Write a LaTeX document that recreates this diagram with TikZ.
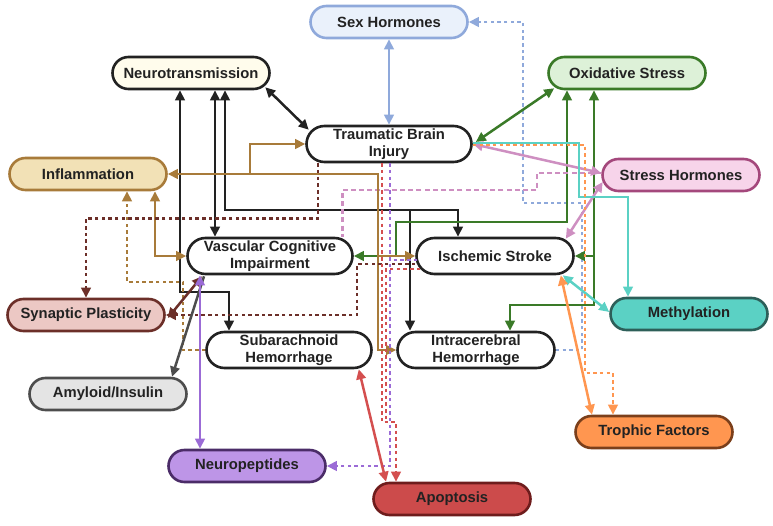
\documentclass[tikz,border=0pt]{standalone}
\usepackage{fontspec}
\setmainfont{Liberation Sans}
\usepackage{xcolor}
\definecolor{ColBlk}{RGB}{34,34,34}
\definecolor{ColSex}{RGB}{143,169,219}
\definecolor{ColSexF}{RGB}{234,241,251}
\definecolor{ColNeuF}{RGB}{255,252,236}
\definecolor{ColOx}{RGB}{58,122,40}
\definecolor{ColOxF}{RGB}{221,241,216}
\definecolor{ColInf}{RGB}{168,123,58}
\definecolor{ColInfF}{RGB}{242,225,182}
\definecolor{ColStr}{RGB}{206,143,193}
\definecolor{ColStrB}{RGB}{164,72,124}
\definecolor{ColStrF}{RGB}{247,212,234}
\definecolor{ColSyn}{RGB}{108,47,41}
\definecolor{ColSynF}{RGB}{236,200,196}
\definecolor{ColMet}{RGB}{91,209,196}
\definecolor{ColMetB}{RGB}{45,95,89}
\definecolor{ColAmy}{RGB}{77,77,77}
\definecolor{ColAmyF}{RGB}{228,228,228}
\definecolor{ColTro}{RGB}{255,150,80}
\definecolor{ColTroB}{RGB}{123,63,27}
\definecolor{ColPep}{RGB}{155,107,214}
\definecolor{ColPepF}{RGB}{189,149,231}
\definecolor{ColPepB}{RGB}{75,44,104}
\definecolor{ColApo}{RGB}{212,79,79}
\definecolor{ColApoF}{RGB}{204,75,75}
\definecolor{ColApoB}{RGB}{110,28,28}
\usepackage{tikz}
\usetikzlibrary{arrows.meta}
\newcommand\NodeFont{\fontsize{14.8}{17}\selectfont\bfseries}
\tikzstyle{Node}=[rectangle,rounded corners=16pt,draw=ColBlk,fill=white,
line width=2.6pt,minimum width=157pt,minimum height=32pt,inner sep=0pt,
align=center,text=ColBlk,font=\NodeFont]
\tikzstyle{NodeTwo}=[Node,minimum width=165pt,minimum height=36pt,
rounded corners=18pt]
\tikzstyle{Edge}=[draw=ColBlk,line width=2.5pt]
\tikzstyle{Dots}=[dash pattern=on 3.5pt off 3.2pt]
\tikzstyle{Dash}=[dash pattern=on 5pt off 3.2pt]

\begin{document}
\begin{tikzpicture}[x=1pt,y=1pt,>={Triangle[length=10pt,width=9.5pt]}]
            \useasboundingbox(0,0)rectangle(773,-526);
            \node[Node,draw=ColSex,fill=ColSexF](SexH)at(389,-22)
                {Sex Hormones};
            \node[Node,fill=ColNeuF](Neuro)at(191,-73)
                {Neurotransmission};
            \node[Node,draw=ColOx,fill=ColOxF](Oxid)at(627,-73)
                {Oxidative Stress};
            \node[NodeTwo](TBI)at(389,-144)
                {Traumatic Brain\\Injury};
            \node[Node,draw=ColInf,fill=ColInfF](Infl)at(88,-174)
                {Inflammation};
            \node[Node,draw=ColStrB,fill=ColStrF](StressH)at(681,-175)
                {Stress Hormones};
            \node[NodeTwo](VCI)at(270,-256)
                {Vascular Cognitive\\Impairment};
            \node[NodeTwo,minimum width=157pt](IS)at(495,-256)
                {Ischemic Stroke};
            \node[Node,draw=ColSyn,fill=ColSynF](SynP)at(86,-315)
                {Synaptic Plasticity};
            \node[Node,draw=ColMetB,fill=ColMet](Meth)at(689,-314)
                {Methylation};
            \node[NodeTwo](SAH)at(289,-350)
                {Subarachnoid\\Hemorrhage};
            \node[NodeTwo,minimum width=157pt](ICH)at(476,-350)
                {Intracerebral\\Hemorrhage};
            \node[Node,draw=ColAmy,fill=ColAmyF](Amyl)at(108,-394)
                {Amyloid/Insulin};
            \node[Node,draw=ColTroB,fill=ColTro](Troph)at(654,-432)
                {Trophic Factors};
            \node[Node,draw=ColPepB,fill=ColPepF](NeuroP)at(247,-466)
                {Neuropeptides};
            \node[Node,draw=ColApoB,fill=ColApoF](Apop)at(452,-499)
                {Apoptosis};
            \coordinate(nbr)at(410,-210);
            \coordinate(obr)at(594,-256);
            \coordinate(ibrA)at(250,-174);
            \coordinate(ibrB)at(378,-256);
            \coordinate(pbr)at(390,-260);
            \coordinate(rbr)at(386,-422);
            % sex hormones
            \draw[Edge,draw=ColSex,<->](SexH)--(TBI);
            \draw[Edge,Dots,draw=ColSex,->](ICH.east)--(582,-350)
                |-(523,-203)|-(SexH.east);
            % neurotransmission
            \draw[Edge,<->]([xshift=-5.5pt,yshift=3pt]Neuro.south east)
                --([xshift=3.5pt,yshift=-5pt]TBI.north west);
            \draw[Edge,<->]([xshift=-11pt]Neuro.south)|-(229,-292)
                --([xshift=-60pt]SAH.north);
            \draw[Edge,<->]([xshift=24pt]Neuro.south)--([xshift=-55pt]VCI.north);
            \draw[Edge,<->]([xshift=34pt]Neuro.south)|-(458,-210)
                --([xshift=-37pt]IS.north);
            \draw[Edge,->](nbr)--([xshift=-66pt]ICH.north);
            % oxidative stress
            \draw[Edge,draw=ColOx,<->]([xshift=3pt,yshift=2pt]TBI.east)
                --([xshift=7pt,yshift=2pt]Oxid.south west);
            \draw[Edge,draw=ColOx,<->]([xshift=-60pt]Oxid.south)|-(396,-222)
                |-(VCI.east);
            \draw[Edge,draw=ColOx,<->]([xshift=-33pt]Oxid.south)|-(510,-305)
                --([xshift=34pt]ICH.north);
            \draw[Edge,draw=ColOx,->](obr)--(IS.east);
            % stress hormones
            \draw[Edge,draw=ColStr,<->](TBI.east)--([yshift=2pt]StressH.west);
            \draw[Edge,draw=ColStr,<->]([xshift=1.5pt,yshift=-7pt]StressH.west)
                --([xshift=-9pt,yshift=-2pt]IS.north east);
            \draw[Edge,Dash,draw=ColStr]([yshift=2pt]StressH.west)-|(537,-190)
                -|([xshift=-11.5pt]VCI.north east);
            % inflammation
            \draw[Edge,draw=ColInf,<->](Infl.east)-|(378,-350)--(ICH.west);
            \draw[Edge,draw=ColInf,->](ibrA)|-(TBI.west);
            \draw[Edge,draw=ColInf,->](ibrB)--(IS.west);
            \draw[Edge,draw=ColInf,<->]([xshift=67pt]Infl.south)|-(VCI.west);
            \draw[Edge,Dots,draw=ColInf,->](SAH.west)-|(183,-282)
                -|([xshift=39pt]Infl.south);
            % synaptic plasticity
            \draw[Edge,Dots,draw=ColSyn,->]([xshift=-71pt]TBI.south)--++(0,-55)
                -|(SynP.north);
            \draw[Edge,draw=ColSyn,<->]([xshift=2pt,yshift=-3pt]SynP.east)
                --([xshift=-68pt,yshift=-1pt]VCI.south);
            \draw[Edge,Dots,draw=ColSyn,->]([yshift=-8pt]IS.west)-|(357,-315)
                --(SynP.east);
            % amyloid/insulin
            \draw[Edge,draw=ColAmy,->]([xshift=-66pt,yshift=-1pt]VCI.south)
                --([xshift=64pt]Amyl.north);
            % neuropeptides
            \draw[Edge,draw=ColPep,<->]([xshift=-70pt]VCI.south)
                --([xshift=-47pt]NeuroP.north);
            \draw[Edge,Dots,draw=ColPep,->]([xshift=1pt]TBI.south)|-(NeuroP.east);
            \draw[Edge,Dots,draw=ColPep]([xshift=2pt,yshift=-4pt]IS.west)--(pbr);
            % apoptosis
            \draw[Edge,Dots,draw=ColApo,->]([xshift=-7pt]TBI.south)|-(396,-422)
                --([xshift=-56pt]Apop.north);
            \draw[Edge,Dots,draw=ColApo]([xshift=5pt,yshift=-13pt]IS.west)-|(rbr);
            \draw[Edge,draw=ColApo,<->]([xshift=-14pt]SAH.south east)
                --([xshift=-66pt]Apop.north);
            % methylation
            \draw[Edge,draw=ColMet,->]([yshift=1pt]TBI.east)-|(579,-197)
                -|([xshift=-61pt]Meth.north);
            \draw[Edge,draw=ColMet,<->]([xshift=-12pt]IS.south east)
                --([yshift=2pt]Meth.west);
            % trophic factors
            \draw[Edge,Dots,draw=ColTro,->]([yshift=-1pt]TBI.east)-|(585,-373)
                -|([xshift=-41pt]Troph.north);
            \draw[Edge,draw=ColTro,<->]([xshift=-14pt]IS.south east)
                --([xshift=-62pt]Troph.north);
        \end{tikzpicture}
\end{document}
